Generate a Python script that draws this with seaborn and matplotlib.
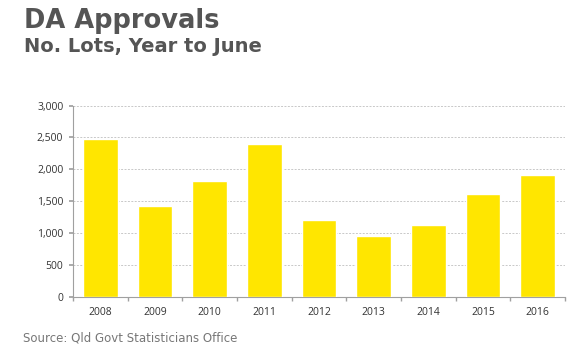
import numpy as np
import pandas as pd
import matplotlib
matplotlib.use('Agg')
import matplotlib.pyplot as plt
import seaborn as sns
from matplotlib.ticker import FuncFormatter, MultipleLocator

years = ['2008', '2009', '2010', '2011', '2012', '2013', '2014', '2015', '2016']
lots = [2470, 1425, 1820, 2400, 1210, 950, 1130, 1620, 1915]

title = 'DA Approvals'
subtitle = 'No. Lots, Year to June'
source = 'Source: Qld Govt Statisticians Office'

df = pd.DataFrame({'year': years, 'lots': lots})

sns.set_theme(style='white')
plt.rcParams['font.family'] = ['DejaVu Sans']

fig = plt.figure(figsize=(5.8, 3.52), dpi=100)
ax = fig.add_axes([73 / 580, 1 - 297 / 352, 492 / 580, 191.5 / 352])

sns.barplot(data=df, x='year', y='lots', color='#FFE600', saturation=1,
            width=0.63, ax=ax, zorder=3)

ax.set_ylim(0, 3000)
ax.set_xlim(-0.5, len(years) - 0.5)
ax.yaxis.set_major_locator(MultipleLocator(500))
ax.yaxis.set_major_formatter(FuncFormatter(lambda v, p: f'{int(v):,}'))
ax.grid(axis='y', color='#c8c8c8', linestyle=(0, (2, 1.5)), linewidth=0.7, zorder=0)
ax.set_xlabel('')
ax.set_ylabel('')

for s in ['top', 'right']:
    ax.spines[s].set_visible(False)
for s in ['left', 'bottom']:
    ax.spines[s].set_color('#a0a0a0')
    ax.spines[s].set_linewidth(0.8)

# ticks on x between categories
ax.set_xticks(np.arange(len(years)))
ax.set_xticklabels(years)
ax.set_xticks(np.arange(-0.5, len(years)), minor=True)
ax.tick_params(axis='x', which='major', length=0, pad=7, labelsize=7.5, labelcolor='#333333')
ax.tick_params(axis='x', which='minor', length=3, color='#a0a0a0', direction='out', bottom=True)
ax.tick_params(axis='y', length=3, color='#a0a0a0', direction='out', left=True,
               labelsize=7.5, labelcolor='#333333', pad=4)
for lab in ax.get_xticklabels() + ax.get_yticklabels():
    lab.set_family(['Open Sans', 'DejaVu Sans'])

fig.text(24 / 580, 1 - 21 / 352, title, fontsize=18.5, fontweight='bold',
         color='#555555', va='center', ha='left')
fig.text(24 / 580, 1 - 47 / 352, subtitle, fontsize=14, fontweight='bold',
         color='#555555', va='center', ha='left')
fig.text(23 / 580, 1 - 338 / 352, source, fontsize=8.5, color='#777777',
         va='center', ha='left')

fig.savefig('out.png', dpi=100, facecolor='white')
